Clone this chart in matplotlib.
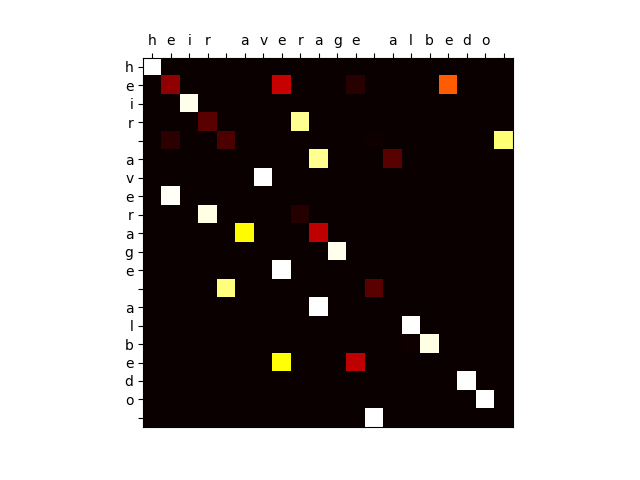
import numpy as np
import matplotlib
matplotlib.use("Agg")
import matplotlib.pyplot as plt

# input characters (columns) and output characters (rows)
input_chars = list("heir average albedo ")
output_chars = list("heir average albedo ")

# non-zero attention weights: (row, col, weight)
cell_rows = [0, 1, 1, 1, 1, 2, 3, 3, 4, 4, 4, 4, 5, 5, 6, 7, 8, 8, 9, 9,
             10, 11, 12, 12, 13, 14, 15, 15, 16, 16, 17, 18, 19]
cell_cols = [0, 1, 7, 11, 16, 2, 3, 8, 1, 4, 12, 19, 9, 13, 6, 1, 3, 8, 5, 9,
             10, 7, 4, 12, 9, 14, 14, 15, 7, 11, 17, 18, 12]
cell_weights = [1.0, 0.20, 0.285, 0.045, 0.50, 0.98, 0.12, 0.89, 0.05, 0.10, 0.01, 0.86, 0.89, 0.12, 1.0, 0.99, 0.97, 0.04, 0.74, 0.27,
                0.98, 1.0, 0.87, 0.12, 1.0, 1.0, 0.01, 0.97, 0.75, 0.27, 1.0, 1.0, 1.0]

attention = np.zeros((len(output_chars), len(input_chars)))
for r, c, w in zip(cell_rows, cell_cols, cell_weights):
    attention[r, c] = w

fig, ax = plt.subplots(figsize=(6.4, 4.8), dpi=100)
ax.imshow(attention, cmap="hot", vmin=0, vmax=1)

ax.xaxis.tick_top()
ax.set_xticks(range(len(input_chars)))
ax.set_xticklabels(input_chars)
ax.set_yticks(range(len(output_chars)))
ax.set_yticklabels(output_chars)

plt.savefig("out.png")
plt.close()
